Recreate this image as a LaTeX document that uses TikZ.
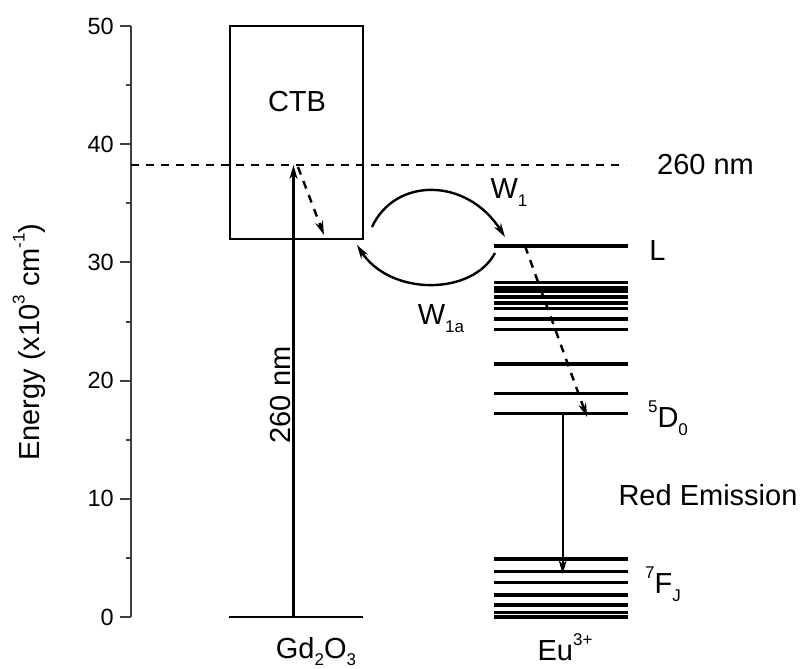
\documentclass[tikz,border=0pt]{standalone}
\usepackage{fontspec}
\setmainfont{Liberation Sans}
\usetikzlibrary{arrows.meta}
\newcommand{\lo}[1]{\raisebox{-0.3em}{\fontsize{17}{20}\selectfont #1}}
\newcommand{\hi}[1]{\raisebox{0.5em}{\fontsize{17}{20}\selectfont #1}}
\newcommand{\hismall}[1]{\raisebox{0.5em}{\fontsize{17}{19}\selectfont #1}}
\begin{document}
\begin{tikzpicture}[x=1pt,y=-1pt,
  axisline/.style={line width=2pt, draw=black!75},
  lvl/.style={line width=3.1pt},
  boxline/.style={line width=2.3pt},
  arr/.style={line width=2.4pt, -{Stealth[length=14pt,width=8pt]}},
  dsh/.style={dash pattern=on 8pt off 7pt},
  lbl/.style={font=\fontsize{29}{34}\selectfont, inner sep=0pt, anchor=base},
  ticklbl/.style={font=\fontsize{23.5}{28}\selectfont, inner sep=0pt, anchor=east}]
\useasboundingbox (0,0) rectangle (807,669);
% axis
\draw[axisline] (131,26) -- (131,617);
\foreach \v in {0,10,20,30,40,50}{
  \draw[axisline] (120,{617-11.82*\v}) -- (131,{617-11.82*\v});
  \node[ticklbl] (tick\v) at (114,{617-11.82*\v}) {\v};
}
\foreach \v in {5,15,25,35,45}{
  \draw[axisline] (125.5,{617-11.82*\v}) -- (131,{617-11.82*\v});
}
\node[font=\fontsize{29}{34}\selectfont, inner sep=0pt, rotate=90] (ylab) at (29,342) {Energy (x10\hismall{3} cm\hismall{-1})};
% dashed 260 nm line
\coordinate (dl) at (131,165);
\coordinate (dr) at (626,165);
\draw[line width=2pt, dsh] (dl) -- (dr);
\node[lbl, anchor=base west] (nm) at (657,175) {260 nm};
% CTB box
\draw[boxline] (230,26) rectangle (363,239);
\node[lbl] (ctb) at (297,111.5) {CTB};
% Gd2O3 ground level
\coordinate (gl) at (229,617);
\coordinate (gr) at (363,617);
\draw[line width=2.6pt] (gl) -- (gr);
\node[lbl] (gd) at (316,658) {Gd\raisebox{-0.25em}{\fontsize{17}{20}\selectfont 2}O\raisebox{-0.25em}{\fontsize{17}{20}\selectfont 3}};
% excitation arrow
\coordinate (g0) at (293.5,617);
\coordinate (g1) at (293.5,165);
\draw[arr] (g0) -- (g1);
\node[font=\fontsize{29}{34}\selectfont, inner sep=0pt, rotate=90] (exc) at (281,395) {260 nm};
% relaxation in CTB
\coordinate (c0) at (298,167);
\coordinate (c1) at (324,235);
\draw[arr, dsh] (c0) -- (c1);
% Eu levels
\foreach \y in {246,282.5,287.5,291,297,303,308.5,319,329.5,364,393.5,413.3,559,571.7,582.3,595,605,612.5,617}{
  \draw[lvl] (494,\y) -- (628,\y);
}
\node[lbl] (L) at (657.5,260) {L};
\node[lbl] (D0) at (668,427) {\hi{5}D\lo{0}};
\node[lbl] (F7) at (663,593) {\hi{7}F\lo{J}};
\node[lbl] (red) at (708,505) {Red Emission};
\node[lbl] (eu) at (565,660) {Eu\hi{3+}};
% energy transfer arcs
\coordinate (w1s) at (372,227);
\coordinate (w1e) at (505,237);
\draw[arr] (w1s) .. controls (395,177) and (467,177) .. (w1e);
\node[lbl] (W1) at (509,198) {W\lo{1}};
\coordinate (w2s) at (495,253);
\coordinate (w2e) at (357,245);
\draw[arr] (w2s) .. controls (472,296) and (390,296) .. (w2e);
\node[lbl] (W1a) at (441,324) {W\lo{1a}};
% Eu nonradiative relaxation
\coordinate (e0) at (525,246);
\coordinate (e1) at (587,417);
\draw[arr, dsh] (e0) -- (e1);
% red emission
\coordinate (r0) at (562.7,413.3);
\coordinate (r1) at (562.7,574);
\draw[arr] (r0) -- (r1);
\end{tikzpicture}
\end{document}
